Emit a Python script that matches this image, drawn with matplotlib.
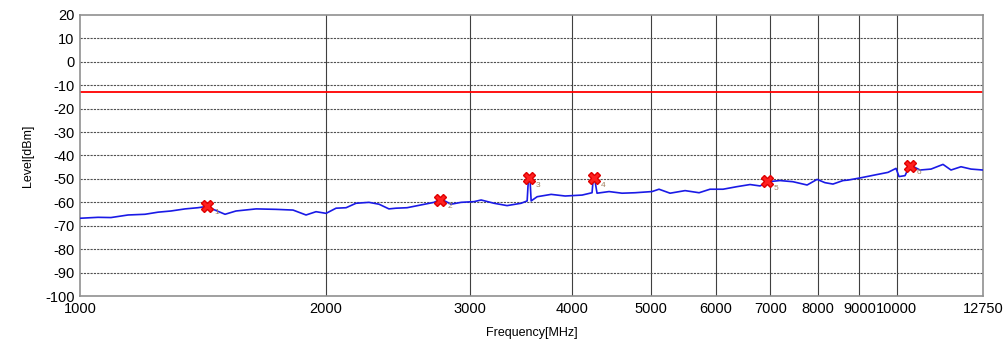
# -*- coding: UTF-8 -*-
import matplotlib
matplotlib.use('Agg')
import matplotlib.pyplot as plt

# 頻率 / 電平 (讀自圖面)
freq = [1000, 1052, 1091, 1145, 1201, 1246, 1292, 1345, 1394, 1427, 1463, 1505,
        1552, 1643, 1738, 1823, 1891, 1945, 2001, 2058, 2117, 2177, 2258, 2323,
        2389, 2437, 2514, 2616, 2713, 2767, 2846, 2928, 3037, 3098, 3213, 3333,
        3467, 3527, 3540, 3555, 3567, 3628, 3774, 3926, 4118, 4235, 4250, 4265,
        4295, 4443, 4609, 4781, 5015, 5115, 5277, 5505, 5727, 5906, 6127, 6374,
        6612, 6801, 6955, 7194, 7463, 7765, 7987, 8166, 8353, 8593, 8715, 9041,
        9403, 9755, 9978, 10062, 10234, 10379, 10676, 11012, 11391, 11650, 11983,
        12326, 12750]
level = [-66.8, -66.4, -66.5, -65.4, -65.1, -64.2, -63.7, -62.8, -62.3, -61.8, -63.3, -65.1,
         -63.7, -62.8, -63.0, -63.3, -65.4, -64.0, -64.7, -62.5, -62.3, -60.4, -60.0, -60.8,
         -62.8, -62.5, -62.3, -61.1, -60.0, -58.6, -60.8, -60.0, -59.7, -59.0, -60.4, -61.4,
         -60.4, -59.4, -49.7, -49.7, -59.4, -57.6, -56.6, -57.3, -56.9, -55.9, -49.7, -49.7,
         -56.1, -55.4, -56.1, -55.9, -55.4, -54.4, -56.1, -55.0, -55.9, -54.4, -54.4, -53.3,
         -52.4, -53.0, -51.2, -50.7, -51.2, -52.6, -50.2, -51.6, -52.2, -50.7, -50.5, -49.5,
         -48.3, -47.2, -45.5, -49.0, -48.6, -44.0, -46.2, -45.8, -43.8, -46.2, -44.8,
         -45.8, -46.2]

# 標記點
mk_freq = [1430, 2760, 3547, 4259, 6935, 10379]
mk_level = [-61.5, -58.8, -49.7, -49.8, -51.0, -44.3]
mk_label = ['1', '2', '3', '4', '5', '6']

limit = -13
xticks = [1000, 2000, 3000, 4000, 5000, 6000, 7000, 8000, 9000, 10000, 12750]
yticks = list(range(-100, 30, 10))

plt.rcParams['font.family'] = ['Liberation Sans', 'DejaVu Sans']
plt.rcParams['axes.unicode_minus'] = False

fig = plt.figure(figsize=(10.08, 3.43), dpi=100)
ax = fig.add_axes([0.0794, 0.137, 0.8958, 0.8193])

ax.set_xscale('log')
ax.set_xlim(1000, 12750)
ax.set_ylim(-100, 20)

#格線
for xv in xticks[1:-1]:
    ax.axvline(xv, color='#404040', lw=0.8, zorder=1)
for yv in yticks[1:-1]:
    ax.axhline(yv, color='#505050', lw=0.8, ls=(0, (2, 1)), zorder=1)

ax.axhline(limit, color='red', lw=1.3, zorder=2)
ax.plot(freq, level, color='#1a1ae6', lw=1.2, zorder=3)
ax.plot(mk_freq, mk_level, 'X', color='#ff2020', ms=9, mec='#e00000', zorder=4)
for f, l, t in zip(mk_freq, mk_level, mk_label):
    ax.annotate(t, (f, l), xytext=(5, -6), textcoords='offset points',
                fontsize=6, color='#a08060', zorder=5)

ax.set_xticks(xticks)
ax.set_xticklabels([str(v) for v in xticks])
ax.xaxis.set_minor_locator(matplotlib.ticker.NullLocator())
ax.set_yticks(yticks)
ax.tick_params(length=0, labelsize=10.5, pad=4)

for s in ax.spines.values():
    s.set_color('#909090')
    s.set_linewidth(1.2)

ax.set_xlabel('Frequency[MHz]', fontsize=9, labelpad=8)
ax.set_ylabel('Level[dBm]', fontsize=9, labelpad=8)

fig.savefig('out.png', dpi=100)
